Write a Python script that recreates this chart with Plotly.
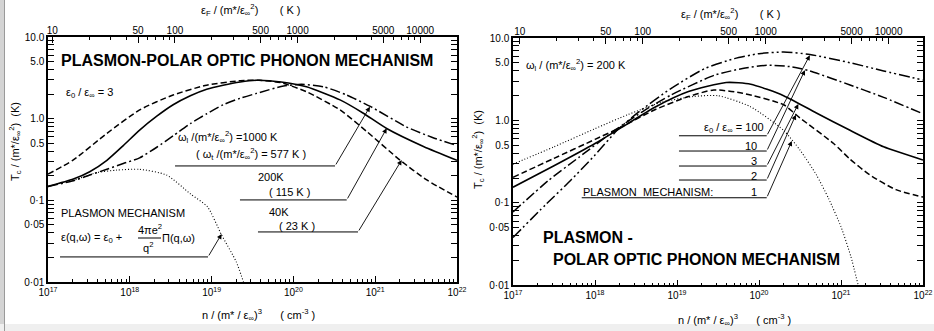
import numpy as np
import plotly.graph_objects as go

W, H = 934, 331
FONT = "Liberation Sans Narrow, Liberation Sans, Arial, sans-serif"

# ---------------- data (log10 n [cm^-3], log10 Tc [K]) ----------------
# Left panel: eps0/epsinf = 3, three omega_l values + plasmon mechanism
L_1000_n = [17.0, 17.31, 17.51, 17.72, 17.92, 18.12, 18.33, 18.53, 18.74, 18.94, 19.14, 19.35, 19.55, 19.88, 20.1, 20.37, 20.65, 20.94, 21.38, 21.7, 22.0]
L_1000_t = [-0.83, -0.76, -0.69, -0.62, -0.55, -0.48, -0.35, -0.21, -0.06, 0.06, 0.17, 0.25, 0.31, 0.40, 0.42, 0.39, 0.29, 0.15, -0.10, -0.23, -0.33]

L_200_n = [17.0, 17.31, 17.51, 17.72, 17.92, 18.12, 18.33, 18.53, 18.74, 18.94, 19.14, 19.35, 19.55, 19.85, 20.16, 20.57, 20.85, 21.14, 21.59, 22.0]
L_200_t = [-0.83, -0.74, -0.65, -0.51, -0.33, -0.14, 0.03, 0.17, 0.28, 0.36, 0.41, 0.45, 0.47, 0.45, 0.39, 0.23, 0.07, -0.12, -0.34, -0.51]

L_40_n = [17.0, 17.31, 17.72, 18.12, 18.53, 18.94, 19.35, 19.59, 19.85, 20.16, 20.57, 20.9, 21.3, 21.63, 22.0]
L_40_t = [-0.68, -0.505, -0.18, 0.107, 0.29, 0.41, 0.465, 0.47, 0.44, 0.33, 0.107, -0.16, -0.505, -0.75, -0.96]

L_pl_n = [17.3, 17.6, 17.84, 18.12, 18.45, 18.74, 18.95, 19.12, 19.3, 19.39]
L_pl_t = [-0.76, -0.66, -0.63, -0.62, -0.69, -0.92, -1.08, -1.42, -1.75, -2.0]

# Right panel: omega_l = 200 K, eps0/epsinf = 100, 10, 3, 2, 1 (plasmon)
R_100_n = [17.0, 17.4, 17.71, 18.0, 18.27, 18.53, 18.93, 19.34, 19.7, 20.0, 20.3, 20.62, 21.11, 21.52, 22.0]
R_100_t = [-1.42, -1.02, -0.72, -0.42, -0.12, 0.10, 0.39, 0.63, 0.75, 0.81, 0.83, 0.80, 0.70, 0.60, 0.49]

R_10_n = [17.0, 17.43, 17.8, 18.27, 18.6, 18.93, 19.46, 19.8, 20.1, 20.4, 20.62, 21.11, 21.52, 22.0]
R_10_t = [-1.11, -0.73, -0.45, -0.10, 0.12, 0.31, 0.55, 0.63, 0.67, 0.65, 0.60, 0.43, 0.28, 0.08]

R_3_n = [17.0, 17.5, 18.0, 18.3, 18.73, 19.14, 19.6, 19.9, 20.3, 20.7, 21.11, 21.52, 22.0]
R_3_t = [-0.81, -0.55, -0.28, -0.10, 0.16, 0.35, 0.46, 0.44, 0.30, 0.09, -0.12, -0.32, -0.48]

R_2_n = [17.0, 17.5, 18.0, 18.3, 18.73, 19.14, 19.45, 19.8, 20.3, 20.5, 20.91, 21.11, 21.35, 21.67, 22.0]
R_2_t = [-0.69, -0.46, -0.23, -0.09, 0.13, 0.29, 0.37, 0.33, 0.19, 0.03, -0.28, -0.47, -0.66, -0.84, -0.93]

R_1_n = [17.0, 17.5, 18.0, 18.4, 18.81, 19.2, 19.5, 19.89, 20.3, 20.5, 20.7, 20.85, 21.0, 21.12, 21.21]
R_1_t = [-0.53, -0.32, -0.10, 0.07, 0.22, 0.29, 0.30, 0.17, -0.12, -0.36, -0.66, -0.95, -1.29, -1.65, -2.0]

# axis ticks
Y_TICKS = [0.01, 0.05, 0.1, 0.5, 1, 5, 10]
Y_TICKTEXT = ["0·01", "0·05", "0·1", "0.5", "1.0", "5.0", "10.0"]
X_TICKS = [1e17, 1e18, 1e19, 1e20, 1e21, 1e22]
X_TICKTEXT = ["10<sup>17</sup>", "10<sup>18</sup>", "10<sup>19</sup>", "10<sup>20</sup>", "10<sup>21</sup>", "10<sup>22</sup>"]
EF_TICKS = [10, 50, 100, 500, 1000, 5000, 10000]
EF_TICKTEXT = ["10", "50", "100", "500", "1000", "5000", "10000"]

# ---------------- helpers ----------------
def P(x, y):
    return x / W, 1 - y / H

def minor_vals(lo, hi):
    v = []
    for d in range(lo, hi):
        for k in range(2, 10):
            v.append(k * 10.0 ** d)
    return v

fig = go.Figure()

def curve(xl, yl, dash, width, xa, ya):
    fig.add_trace(go.Scatter(
        x=np.power(10.0, xl), y=np.power(10.0, yl), mode="lines",
        line=dict(color="black", width=width, dash=dash, shape="spline", smoothing=0.6),
        xaxis=xa, yaxis=ya, showlegend=False, hoverinfo="skip"))

DASHDOTDOT = "11px,3px,2px,3px,2px,3px"
DASHDOT = "10px,3px,2px,3px"
DASH = "6px,3px"
DOT = "1px,2px"

# left panel
curve(L_1000_n, L_1000_t, DASHDOT, 1.5, "x", "y")
curve(L_200_n, L_200_t, "solid", 1.6, "x", "y")
curve(L_40_n, L_40_t, DASH, 1.5, "x", "y")
curve(L_pl_n, L_pl_t, DOT, 1.1, "x", "y")
# right panel
curve(R_100_n, R_100_t, DASHDOTDOT, 1.5, "x3", "y2")
curve(R_10_n, R_10_t, DASHDOT, 1.5, "x3", "y2")
curve(R_3_n, R_3_t, "solid", 1.6, "x3", "y2")
curve(R_2_n, R_2_t, DASH, 1.5, "x3", "y2")
curve(R_1_n, R_1_t, DOT, 1.1, "x3", "y2")

# invisible traces to keep top axes alive
for xa, ya in (("x2", "y"), ("x4", "y2")):
    fig.add_trace(go.Scatter(x=[100], y=[1], mode="markers", marker=dict(opacity=0),
                             xaxis=xa, yaxis=ya, showlegend=False, hoverinfo="skip"))

annotations = []
shapes = []

def leader(xa, ya, L0, L1, lt, tipL, tipT):
    # underline
    fig.add_trace(go.Scatter(x=[10 ** L0, 10 ** L1], y=[10 ** lt, 10 ** lt], mode="lines",
                             line=dict(color="black", width=1), xaxis=xa, yaxis=ya,
                             showlegend=False, hoverinfo="skip"))
    annotations.append(dict(x=tipL, y=tipT, ax=L1, ay=lt, xref=xa, yref=ya, axref=xa, ayref=ya,
                            text="", showarrow=True, arrowhead=2, arrowsize=1.1, arrowwidth=0.9,
                            arrowcolor="black", standoff=0, startstandoff=0))

# left leaders
leader("x", "y", 18.553, 20.509, -0.579, 20.936, 0.147)
leader("x", "y", 19.347, 20.652, -0.995, 21.141, -0.118)
leader("x", "y", 19.567, 20.79, -1.387, 21.324, -0.506)
leader("x", "y", 17.147, 18.956, -1.693, 19.123, -1.411)
# right leaders
leader("x3", "y2", 19.024, 20.094, -0.186, 20.62, 0.79)
leader("x3", "y2", 19.024, 20.094, -0.371, 20.56, 0.61)
leader("x3", "y2", 19.024, 20.094, -0.553, 20.48, 0.20)
leader("x3", "y2", 19.024, 20.094, -0.723, 20.45, 0.07)
leader("x3", "y2", 17.838, 20.094, -0.938, 20.40, -0.25)

def text(x, y, s, size=11, anchor="left", angle=0):
    px, py = P(x, y)
    annotations.append(dict(x=px, y=py, xref="paper", yref="paper", text=s, showarrow=False,
                            xanchor=anchor, yanchor="middle", textangle=angle, borderpad=0,
                            font=dict(family=FONT, size=size, color="black")))

EINF2 = "ε<sub>∞</sub><sup>2</sup>"
# left panel texts
text(60, 60, "<b>PLASMON-POLAR OPTIC PHONON MECHANISM</b>", 16)
text(65, 93, "ε<sub>0</sub> / ε<sub>∞</sub> = 3", 11)
text(177, 137, "ω<sub>l</sub> /(m*/" + EINF2 + ") =1000 K", 11)
text(195, 154, "( ω<sub>t</sub> /(m*/" + EINF2 + ") = 577 K )", 11)
text(257, 177, "200K", 11)
text(268, 192, "( 115 K )", 11)
text(268, 212, "40K", 11)
text(278, 226, "( 23 K )", 11)
text(60, 213, "PLASMON MECHANISM", 11)
text(60, 238, "ε(q,ω) = ε<sub>0</sub> +", 11)
text(150, 229, "4πe<sup>2</sup>", 11, "center")
text(148, 247, "q<sup>2</sup>", 11, "center")
text(161, 238, "Π(q,ω)", 11)
shapes.append(dict(type="line", xref="paper", yref="paper", x0=138 / W, x1=161 / W,
                   y0=1 - 238 / H, y1=1 - 238 / H, line=dict(color="black", width=1)))
# right panel texts
text(525, 65, "ω<sub>l</sub> / (m*/" + EINF2 + ") = 200 K", 11)
text(765, 128, "ε<sub>0</sub> / ε<sub>∞</sub> = 100", 11, "right")
text(758, 146, "10", 11, "right")
text(758, 161, "3", 11, "right")
text(758, 176, "2", 11, "right")
text(582, 192, "PLASMON  MECHANISM:", 11)
text(758, 192, "1", 11, "right")
text(542, 237, "<b>PLASMON -</b>", 16)
text(552, 259, "<b>POLAR OPTIC PHONON MECHANISM</b>", 16)
# axis titles
text(258, 315, "n / (m* / ε<sub>∞</sub>)<sup>3</sup>      ( cm<sup>-3</sup> )", 11, "center")
text(734, 320, "n / (m* / ε<sub>∞</sub>)<sup>3</sup>      ( cm<sup>-3</sup> )", 11, "center")
text(250, 10, "ε<sub>F</sub> / (m*/" + EINF2 + ")       ( K )", 11, "center")
text(730, 14, "ε<sub>F</sub> / (m*/" + EINF2 + ")       ( K )", 11, "center")
text(15, 142, "T<sub>c</sub> / (m*/" + EINF2 + ")  (K)", 11, "center", -90)
text(478, 150, "T<sub>c</sub> / (m*/" + EINF2 + ")  (K)", 11, "center", -90)

# window frame decorations
shapes.append(dict(type="rect", xref="paper", yref="paper", x0=0, x1=4 / W, y0=0, y1=1,
                   fillcolor="#d4d4d4", line=dict(width=0), layer="below"))
shapes.append(dict(type="line", xref="paper", yref="paper", x0=4.5 / W, x1=4.5 / W, y0=0, y1=1,
                   line=dict(color="#9a9a9a", width=1)))
shapes.append(dict(type="rect", xref="paper", yref="paper", x0=0, x1=1, y0=0, y1=7 / H,
                   fillcolor="#efefef", line=dict(width=0), layer="below"))

tickfont = dict(family=FONT, size=10, color="black")

def xaxis_bottom(dom):
    return dict(domain=dom, type="log", range=[17, 22], tickvals=X_TICKS, ticktext=X_TICKTEXT,
                ticks="inside", ticklen=6, tickwidth=1, tickcolor="black", automargin=False,
                showline=True, linecolor="black", linewidth=1.5, mirror=True,
                showgrid=False, zeroline=False, tickfont=tickfont,
                minor=dict(tickvals=minor_vals(17, 22), ticks="inside", ticklen=3,
                           tickcolor="black", tickwidth=1, showgrid=False))

def xaxis_top(over, anchor, rng):
    return dict(overlaying=over, anchor=anchor, side="top", type="log", range=rng,
                tickvals=EF_TICKS, ticktext=EF_TICKTEXT, ticks="inside", ticklen=6,
                tickwidth=1, tickcolor="black", showline=False, showgrid=False,
                zeroline=False, tickfont=tickfont, automargin=False,
                minor=dict(tickvals=minor_vals(1, 5), ticks="inside", ticklen=3,
                           tickcolor="black", tickwidth=1, showgrid=False))

def yaxis(dom, anchor):
    return dict(domain=dom, anchor=anchor, type="log", range=[-2, 1], tickvals=Y_TICKS,
                ticktext=Y_TICKTEXT, ticks="inside", ticklen=6, tickwidth=1, tickcolor="black",
                showline=True, linecolor="black", linewidth=1.5, mirror="allticks",
                showgrid=False, zeroline=False, tickfont=tickfont, automargin=False,
                minor=dict(tickvals=minor_vals(-2, 1), ticks="inside", ticklen=3,
                           tickcolor="black", tickwidth=1, showgrid=False))

LX = [48 / W, 457 / W]
LY = [1 - 282 / H, 1 - 37 / H]
RX = [513 / W, 923 / W]
RY = [1 - 285.3 / H, 1 - 38 / H]

fig.update_layout(
    width=W, height=H, margin=dict(l=0, r=0, t=0, b=0, autoexpand=False),
    paper_bgcolor="white", plot_bgcolor="white",
    font=dict(family=FONT, size=11, color="black"),
    xaxis=dict(xaxis_bottom(LX), anchor="y"),
    xaxis2=xaxis_top("x", "y", [0.965, 4.30]),
    yaxis=yaxis(LY, "x"),
    xaxis3=dict(xaxis_bottom(RX), anchor="y2"),
    xaxis4=xaxis_top("x3", "y2", [0.945, 4.28]),
    yaxis2=yaxis(RY, "x3"),
    annotations=annotations, shapes=shapes, showlegend=False,
)

fig.write_html("out.html")
